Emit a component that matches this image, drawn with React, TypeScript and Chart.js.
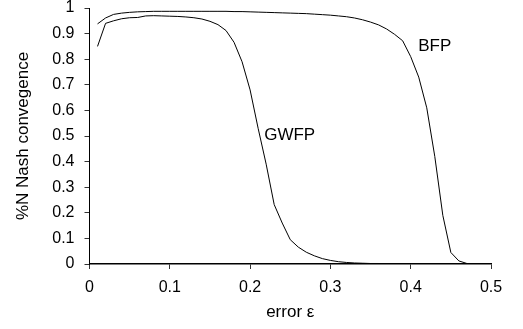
import React, { useEffect, useRef } from "react";
import { Chart, registerables } from "chart.js";

Chart.register(...registerables);

const errorValues = [
  0.01, 0.02, 0.03, 0.04, 0.05, 0.06, 0.07, 0.08, 0.09, 0.1,
  0.11, 0.12, 0.13, 0.14, 0.15, 0.16, 0.17, 0.18, 0.19, 0.2,
  0.21, 0.22, 0.23, 0.24, 0.25, 0.26, 0.27, 0.28, 0.29, 0.3,
  0.31, 0.32, 0.33, 0.34, 0.35, 0.36, 0.37, 0.38, 0.39, 0.4,
  0.41, 0.42, 0.43, 0.44, 0.45, 0.46, 0.47, 0.48, 0.49, 0.5,
];

const gwfp = [
  0.85, 0.94, 0.95, 0.958, 0.962, 0.963, 0.969, 0.97, 0.969, 0.968,
  0.967, 0.965, 0.962, 0.957, 0.948, 0.935, 0.912, 0.866, 0.79, 0.68,
  0.53, 0.39, 0.232, 0.16, 0.095, 0.066, 0.046, 0.032, 0.021, 0.014,
  0.009, 0.006, 0.004, 0.003, 0.002, 0.002, 0.001, 0.001, 0.001, 0.0,
  0.0, 0.0, 0.0, 0.0, 0.0, 0.0, 0.0, 0.0, 0.0, 0.0,
];

const bfp = [
  0.938, 0.961, 0.975, 0.98, 0.983, 0.985, 0.986, 0.987, 0.987, 0.987,
  0.987, 0.987, 0.987, 0.987, 0.987, 0.987, 0.987, 0.986, 0.986, 0.985,
  0.984, 0.983, 0.982, 0.981, 0.98, 0.979, 0.978, 0.976, 0.974, 0.972,
  0.969, 0.966, 0.961, 0.954, 0.945, 0.934, 0.918, 0.897, 0.872, 0.81,
  0.73, 0.61, 0.42, 0.19, 0.045, 0.012, 0.002, 0.0, 0.0, 0.0,
];

const xTicks = [0, 0.1, 0.2, 0.3, 0.4, 0.5];
const yTicks = [0, 0.1, 0.2, 0.3, 0.4, 0.5, 0.6, 0.7, 0.8, 0.9, 1];

const seriesLabels = [
  { text: "BFP", x: 0.4094, y: 0.851 },
  { text: "GWFP", x: 0.2175, y: 0.503 },
];

const FONT = "'Liberation Sans', Arial, sans-serif";

const labelPlugin = {
  id: "seriesLabels",
  afterDatasetsDraw(chart: any) {
    const { ctx, scales } = chart;
    ctx.save();
    ctx.font = `17px ${FONT}`;
    ctx.fillStyle = "#000";
    ctx.textAlign = "left";
    ctx.textBaseline = "middle";
    for (const l of seriesLabels) {
      ctx.fillText(l.text, scales.x.getPixelForValue(l.x), scales.y.getPixelForValue(l.y));
    }
    ctx.restore();
  },
};

const fmt = (v: any) => String(Math.round(Number(v) * 10) / 10);

export default function App() {
  const ref = useRef<HTMLCanvasElement>(null);
  useEffect(() => {
    const canvas = ref.current!;
    const toPts = (arr: number[]) => errorValues.map((x, i) => ({ x, y: arr[i] }));
    const chart = new Chart(canvas, {
      type: "line",
      data: {
        datasets: [
          { label: "GWFP", data: toPts(gwfp), borderColor: "#000", borderWidth: 1, pointRadius: 0, tension: 0 },
          { label: "BFP", data: toPts(bfp), borderColor: "#000", borderWidth: 1, pointRadius: 0, tension: 0 },
        ],
      },
      options: {
        animation: false,
        responsive: false,
        maintainAspectRatio: false,
        layout: { padding: { left: 0, right: 32, top: 8, bottom: 0 } },
        plugins: { legend: { display: false }, tooltip: { enabled: false } },
        scales: {
          x: {
            type: "linear",
            min: 0,
            max: 0.5,
            afterBuildTicks: (s: any) => { s.ticks = xTicks.map((v) => ({ value: v })); },
            afterFit: (s: any) => { s.height = 65; s.paddingLeft = 0; s.paddingRight = 0; },
            grid: { drawOnChartArea: false, tickLength: 5, color: "#333", lineWidth: 1 },
            border: { color: "#000", width: 1.5 },
            ticks: { color: "#000", font: { family: FONT, size: 16 }, padding: 9, maxRotation: 0, callback: fmt },
            title: { display: true, text: "error ε", color: "#000", font: { family: FONT, size: 17 }, padding: { top: 0, bottom: 6 } },
          },
          y: {
            type: "linear",
            min: 0,
            max: 1,
            afterBuildTicks: (s: any) => { s.ticks = yTicks.map((v) => ({ value: v })); },
            afterFit: (s: any) => { s.width = 89.5; s.paddingTop = 0; s.paddingBottom = 0; },
            grid: { drawOnChartArea: false, tickLength: 5, color: "#333", lineWidth: 1 },
            border: { color: "#000", width: 1 },
            ticks: { color: "#000", font: { family: FONT, size: 16 }, padding: 10, callback: fmt },
            title: { display: true, text: "%N Nash convegence", color: "#000", font: { family: FONT, size: 17 }, padding: { top: 13, bottom: 0 } },
          },
        },
      },
      plugins: [labelPlugin],
    } as any);
    return () => chart.destroy();
  }, []);
  return (
    <div style={{ position: "fixed", left: 0, top: 0, width: 523, height: 329, background: "#fff" }}>
      <canvas ref={ref} width={523} height={329} style={{ width: 523, height: 329, display: "block" }} />
    </div>
  );
}
